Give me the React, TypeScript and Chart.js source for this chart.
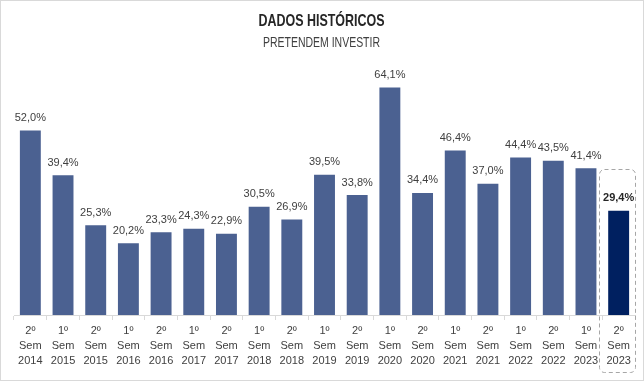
import React, { useEffect, useRef } from "react";
import { Chart, registerables } from "chart.js";

Chart.register(...registerables);

const halves = ["2º", "1º", "2º", "1º", "2º", "1º", "2º", "1º", "2º", "1º", "2º", "1º", "2º", "1º", "2º", "1º", "2º", "1º", "2º"];
const years = ["2014", "2015", "2015", "2016", "2016", "2017", "2017", "2018", "2018", "2019", "2019", "2020", "2020", "2021", "2021", "2022", "2022", "2023", "2023"];
const values = [52.0, 39.4, 25.3, 20.2, 23.3, 24.3, 22.9, 30.5, 26.9, 39.5, 33.8, 64.1, 34.4, 46.4, 37.0, 44.4, 43.5, 41.4, 29.4];
const titleText = "DADOS HISTÓRICOS";
const subtitleText = "PRETENDEM INVESTIR";

const BAR = "#4B6191";
const LAST = "#002060";
const FONT = "'Liberation Sans', Arial, sans-serif";

const fmt = (v: number) => v.toFixed(1).replace(".", ",") + "%";

export default function App() {
  const ref = useRef<HTMLCanvasElement | null>(null);
  useEffect(() => {
    document.body.style.margin = "0";
    const canvas = ref.current!;
    const last = values.length - 1;
    const drawNarrow = (ctx: CanvasRenderingContext2D, text: string, cx: number, cy: number, font: string, color: string, targetW: number) => {
      ctx.save();
      ctx.font = font;
      ctx.fillStyle = color;
      ctx.textAlign = "center";
      ctx.textBaseline = "middle";
      const w = ctx.measureText(text).width;
      const s = Math.min(1, targetW / w);
      ctx.translate(cx, cy);
      ctx.scale(s, 1);
      ctx.fillText(text, 0, 0);
      ctx.restore();
    };
    const labelsPlugin = {
      id: "labels",
      afterDatasetsDraw(chart: any) {
        const ctx = chart.ctx;
        const meta = chart.getDatasetMeta(0);
        ctx.save();
        ctx.textAlign = "center";
        ctx.textBaseline = "middle";
        meta.data.forEach((bar: any, i: number) => {
          const isLast = i === last;
          ctx.font = (isLast ? "bold 11px " : "11px ") + FONT;
          ctx.fillStyle = isLast ? "#262626" : "#404040";
          ctx.fillText(fmt(values[i]), bar.x, bar.y - 12.5);
        });
        // dashed box around the last category
        const b = meta.data[last];
        const x0 = b.x - 19.5, x1 = b.x + 16.5;
        const y0 = b.y - 42, y1 = chart.height - 9;
        ctx.setLineDash([4, 3]);
        ctx.strokeStyle = "#a6a6a6";
        ctx.lineWidth = 1;
        ctx.beginPath();
        (ctx as any).roundRect(Math.round(x0) + 0.5, Math.round(y0) + 0.5, Math.round(x1 - x0), Math.round(y1 - y0), 5);
        ctx.stroke();
        ctx.setLineDash([]);
        // outer border
        ctx.strokeStyle = "#d9d9d9";
        ctx.strokeRect(0.5, 0.5, chart.width - 1, chart.height - 1);
        ctx.restore();
        // titles
        const cx = chart.width / 2 - 0.5;
        drawNarrow(ctx, titleText, cx, 21, "bold 17px " + FONT, "#262626", 126);
        drawNarrow(ctx, subtitleText, cx, 43, "15px " + FONT, "#404040", 117);
      },
    };
    const chart = new Chart(canvas, {
      type: "bar",
      data: {
        labels: halves.map((h, i) => [h, "Sem", years[i]]),
        datasets: [
          {
            data: values,
            backgroundColor: values.map((_, i) => (i === last ? LAST : BAR)),
            barPercentage: 0.64,
            categoryPercentage: 1,
          },
        ],
      },
      options: {
        responsive: false,
        animation: false,
        layout: { padding: { left: 14, right: 9, bottom: 10, top: 61 } },
        plugins: {
          legend: { display: false },
          tooltip: { enabled: false },
          title: { display: false },
          subtitle: { display: false },
        },
        scales: {
          x: {
            grid: { display: true, offset: true, drawOnChartArea: false, drawTicks: true, tickLength: 5, color: "#d9d9d9" },
            border: { display: true, color: "#d9d9d9" },
            ticks: { color: "#404040", padding: 3, maxRotation: 0, autoSkip: false, font: { family: FONT, size: 11, lineHeight: 15 / 11 } },
          },
          y: { display: false, min: 0, max: 71.6 },
        },
      },
      plugins: [labelsPlugin],
    });
    return () => chart.destroy();
  }, []);
  return (
    <div style={{ position: "absolute", left: 0, top: 0, width: 644, height: 381, background: "#fff" }}>
      <canvas ref={ref} width={644} height={381} style={{ display: "block", width: 644, height: 381 }} />
    </div>
  );
}
